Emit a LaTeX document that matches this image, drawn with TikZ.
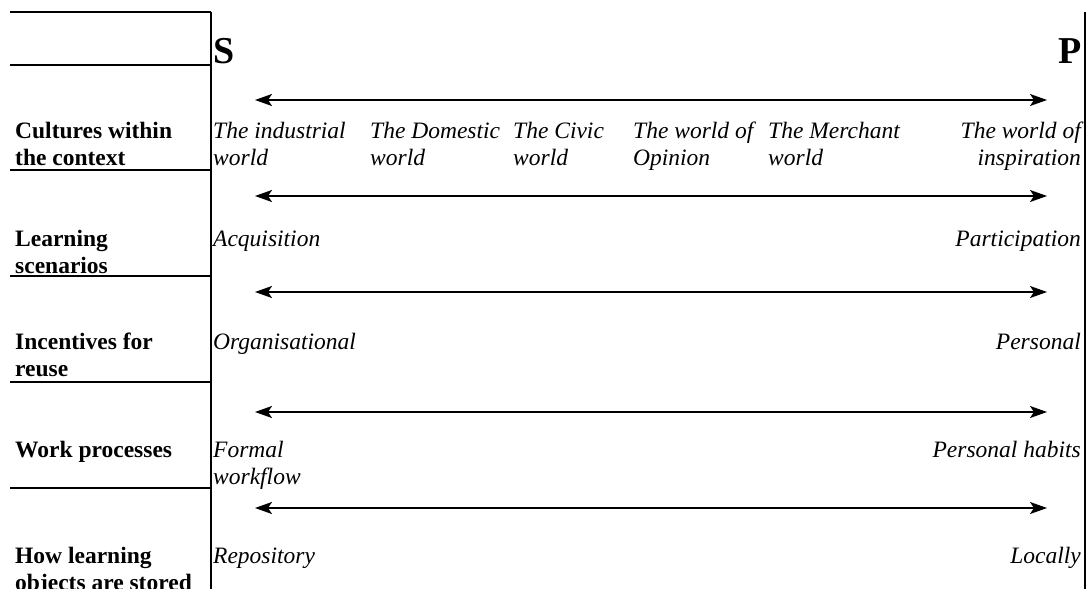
\documentclass[tikz,border=0pt]{standalone}
\usepackage{fontspec}
\setmainfont{Liberation Serif}
\usetikzlibrary{arrows.meta}
\begin{document}
\begin{tikzpicture}[x=1pt,y=-1pt,
  rule/.style={line width=2pt},
  spec/.style={line width=2pt,{Stealth[length=17pt,width=12pt,inset=4pt]}-{Stealth[length=17pt,width=12pt,inset=4pt]}},
  lab/.style={anchor=base west,inner sep=0pt,font=\fontsize{23.5}{27.5}\selectfont\bfseries},
  itl/.style={anchor=base west,inner sep=0pt,font=\fontsize{23.5}{27.5}\selectfont\itshape},
  itr/.style={anchor=base east,inner sep=0pt,font=\fontsize{23.5}{27.5}\selectfont\itshape},
  pole/.style={inner sep=0pt,font=\fontsize{38}{42}\selectfont\bfseries}]
\useasboundingbox (0,0) rectangle (1087,589);
% frame lines
\coordinate (vlt) at (211,12); \coordinate (vlb) at (211,589);
\coordinate (vrt) at (1085,12); \coordinate (vrb) at (1085,589);
\draw[rule] (vlt) -- (vlb);
\draw[rule] (vrt) -- (vrb);
\foreach \y [count=\i] in {12,65,170,276,382,488}{
  \coordinate (hl\i) at (10,\y); \coordinate (hr\i) at (211,\y);
  \draw[rule] (hl\i) -- (hr\i);
}
% poles
\node[pole,anchor=base west] (S) at (213,63) {S};
\node[pole,anchor=base east] (P) at (1082,63) {P};
% arrows
\foreach \y [count=\i] in {100,196,292,412,508}{
  \coordinate (al\i) at (255,\y); \coordinate (ar\i) at (1047,\y);
  \draw[spec] (al\i) -- (ar\i);
}
% row labels
\node[lab] (l1) at (15,138) {\begin{tabular}[t]{@{}l@{}}Cultures within\\the context\end{tabular}};
\node[lab] (l2) at (15,246) {\begin{tabular}[t]{@{}l@{}}Learning\\scenarios\end{tabular}};
\node[lab] (l3) at (15,349) {\begin{tabular}[t]{@{}l@{}}Incentives for\\reuse\end{tabular}};
\node[lab] (l4) at (15,457) {Work processes};
\node[lab] (l5) at (15,563) {\begin{tabular}[t]{@{}l@{}}How learning\\objects are stored\end{tabular}};
% row 1
\node[itl] (c1) at (213,138) {\begin{tabular}[t]{@{}l@{}}The industrial\\world\end{tabular}};
\node[itl] (c2) at (370,138) {\begin{tabular}[t]{@{}l@{}}The Domestic\\world\end{tabular}};
\node[itl] (c3) at (513,138) {\begin{tabular}[t]{@{}l@{}}The Civic\\world\end{tabular}};
\node[itl] (c4) at (633,138) {\begin{tabular}[t]{@{}l@{}}The world of\\Opinion\end{tabular}};
\node[itl] (c5) at (768,138) {\begin{tabular}[t]{@{}l@{}}The Merchant\\world\end{tabular}};
\node[itr] (c6) at (1081,138) {\begin{tabular}[t]{@{}r@{}}The world of\\inspiration\end{tabular}};
% row 2
\node[itl] (r2a) at (213,246) {Acquisition};
\node[itr] (r2b) at (1081,246) {Participation};
% row 3
\node[itl] (r3a) at (213,349) {Organisational};
\node[itr] (r3b) at (1081,349) {Personal};
% row 4
\node[itl] (r4a) at (213,457) {\begin{tabular}[t]{@{}l@{}}Formal\\workflow\end{tabular}};
\node[itr] (r4b) at (1081,457) {Personal habits};
% row 5
\node[itl] (r5a) at (213,563) {Repository};
\node[itr] (r5b) at (1081,563) {Locally};
\end{tikzpicture}
\end{document}
